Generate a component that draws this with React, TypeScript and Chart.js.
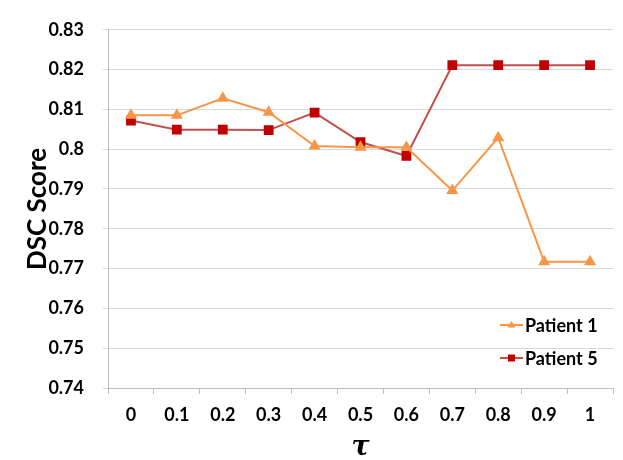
import React, { useEffect, useRef } from "react";
import { Chart, registerables } from "chart.js";

Chart.register(...registerables);

const categories = ["0", "0.1", "0.2", "0.3", "0.4", "0.5", "0.6", "0.7", "0.8", "0.9", "1"];
const patient1 = [0.8085, 0.8085, 0.8128, 0.8093, 0.8008, 0.8005, 0.8005, 0.7896, 0.8029, 0.7717, 0.7717];
const patient5 = [0.8072, 0.8049, 0.8049, 0.8048, 0.8092, 0.8018, 0.7983, 0.8211, 0.8211, 0.8211, 0.8211];
const yTicks = [0.74, 0.75, 0.76, 0.77, 0.78, 0.79, 0.8, 0.81, 0.82, 0.83];
const seriesNames = ["Patient 1", "Patient 5"];

const FONT = "Lato, 'Open Sans', sans-serif";

const legendPlugin = {
  id: "insideLegend",
  afterDraw(chart: any) {
    const ctx = chart.ctx;
    const area = chart.chartArea;
    ctx.save();
    const items = chart.data.datasets;
    const x0 = area.right - 113;
    const ys = [area.bottom - 63, area.bottom - 30];
    items.forEach((ds: any, i: number) => {
      const y = ys[i];
      ctx.strokeStyle = ds.borderColor;
      ctx.lineWidth = 2;
      ctx.beginPath();
      ctx.moveTo(x0, y);
      ctx.lineTo(x0 + 23, y);
      ctx.stroke();
      ctx.fillStyle = ds.pointBackgroundColor;
      ctx.beginPath();
      if (ds.pointStyle === "triangle") {
        const r = 4;
        ctx.moveTo(x0 + 11.5, y - r);
        ctx.lineTo(x0 + 11.5 + r, y + r * 0.6);
        ctx.lineTo(x0 + 11.5 - r, y + r * 0.6);
        ctx.closePath();
      } else {
        ctx.rect(x0 + 11.5 - 3.5, y - 3.5, 7, 7);
      }
      ctx.fill();
      ctx.fillStyle = "#000";
      ctx.font = `bold 18px ${FONT}`;
      ctx.textBaseline = "middle";
      ctx.textAlign = "left";
      ctx.fillText(ds.label, x0 + 25, y + 1);
    });
    ctx.restore();
  },
};

export default function App() {
  const ref = useRef<HTMLCanvasElement>(null);
  useEffect(() => {
    if (!ref.current) return;
    const chart = new Chart(ref.current, {
      type: "line",
      data: {
        labels: categories,
        datasets: [
          {
            label: seriesNames[0],
            data: patient1,
            borderColor: "#F79646",
            backgroundColor: "#F79646",
            pointBackgroundColor: "#F79646",
            pointBorderColor: "#F79646",
            pointStyle: "triangle",
            pointRadius: 5,
            borderWidth: 2,
            tension: 0,
          },
          {
            label: seriesNames[1],
            data: patient5,
            borderColor: "#C0504D",
            backgroundColor: "#C00000",
            pointBackgroundColor: "#C00000",
            pointBorderColor: "#C00000",
            pointStyle: "rect",
            pointRadius: 5.5,
            borderWidth: 2,
            tension: 0,
          },
        ],
      },
      options: {
        responsive: false,
        animation: false,
        layout: { padding: { left: 0, right: 10, top: 16, bottom: 0 } },
        plugins: {
          legend: { display: false },
          tooltip: { enabled: false },
        },
        scales: {
          x: {
            type: "category",
            offset: true,
            grid: {
              display: true,
              drawOnChartArea: false,
              drawTicks: true,
              tickLength: 6,
              offset: true,
              color: "#bfbfbf",
            },
            border: { display: true, color: "#bfbfbf", width: 1 },
            ticks: {
              color: "#000",
              font: { family: FONT, size: 18, weight: "bold" },
              padding: 10,
              maxRotation: 0,
              autoSkip: false,
            },
            title: {
              display: true,
              text: "τ",
              color: "#000",
              font: { family: "'DejaVu Serif', serif", size: 27, style: "italic", weight: "bold", lineHeight: 0.9 },
              padding: { top: 0, bottom: 0 },
            },
            afterFit: (scale: any) => {
              scale.height = 72;
            },
          },
          y: {
            min: 0.74,
            max: 0.83,
            afterBuildTicks: (scale: any) => {
              scale.ticks = yTicks.map((v) => ({ value: v }));
            },
            grid: {
              color: "#d9d9d9",
              lineWidth: 1,
              tickLength: 5,
              drawTicks: true,
            },
            border: { display: true, color: "#bfbfbf", width: 1 },
            ticks: {
              color: "#000",
              font: { family: FONT, size: 18, weight: "bold" },
              padding: 19,
              autoSkip: false,
              callback: (v: any) => String(Number(Number(v).toFixed(2))),
            },
            title: {
              display: true,
              text: "DSC Score",
              color: "#000",
              font: { family: FONT, size: 26, weight: "bold", lineHeight: 1.2 },
              padding: { top: 22, bottom: 0 },
            },
            afterFit: (scale: any) => {
              scale.width = 108;
            },
          },
        },
      },
      plugins: [legendPlugin],
    });
    return () => chart.destroy();
  }, []);
  return (
    <div style={{ position: "fixed", left: 0, top: 0, width: 623, height: 460, background: "#fff" }}>
      <canvas ref={ref} width={623} height={460} />
    </div>
  );
}
